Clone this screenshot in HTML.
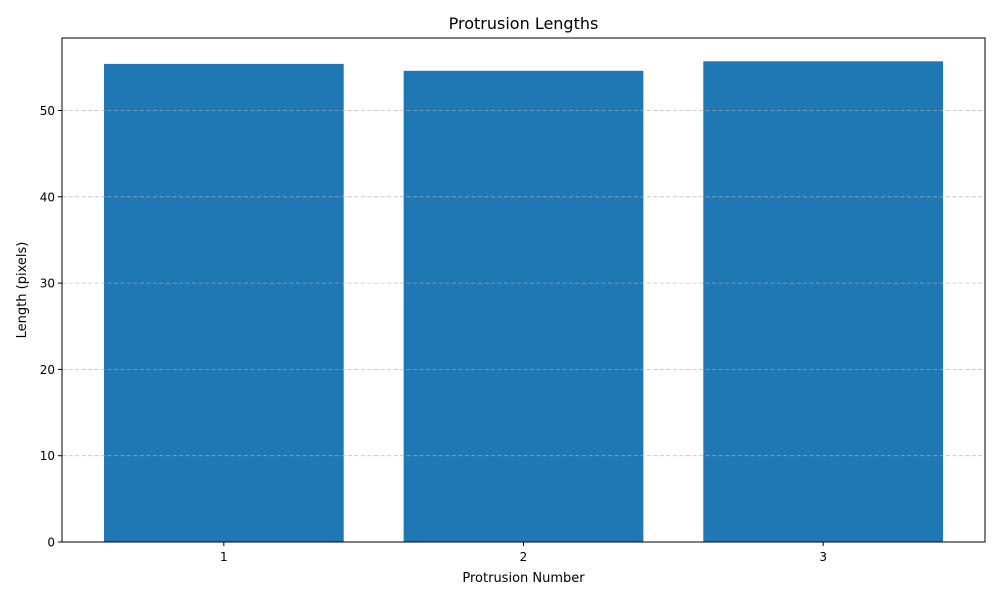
<!DOCTYPE html>
<html><head><meta charset="utf-8"><style>
body{margin:0;background:#fff;font-family:"Liberation Sans","DejaVu Sans",sans-serif;}
svg text{font-family:"DejaVu Sans","Liberation Sans",sans-serif;}
</style></head><body>
<svg id="chart" width="1000" height="600">
<rect x="0" y="0" width="1000" height="600" fill="#fff"/>
<text x="523.5" y="29" text-anchor="middle" font-size="16" fill="#000">Protrusion Lengths</text>
<g id="bars"></g><g id="grid"></g><g id="axes"></g>
<text x="523.5" y="582" text-anchor="middle" font-size="13">Protrusion Number</text>
<text transform="translate(26,290) rotate(-90)" text-anchor="middle" font-size="13">Length (pixels)</text>
</svg>
<script>
const categories = ["1","2","3"];
const lengths = [55.4, 54.6, 55.7];
const yTicks = [0,10,20,30,40,50];
const L=62,R=985,T=38,B=542;
const xMin=0.46,xMax=3.54,yMax=58.4;
const xs=v=>L+(v-xMin)/(xMax-xMin)*(R-L);
const ys=v=>B-v/yMax*(B-T);
const NS="http://www.w3.org/2000/svg";
const grid=document.getElementById('grid'),bars=document.getElementById('bars'),axes=document.getElementById('axes');
function mk(tag,attrs,parent){const e=document.createElementNS(NS,tag);for(const k in attrs)e.setAttribute(k,attrs[k]);parent.appendChild(e);return e;}
yTicks.forEach(t=>{
  const y=ys(t);
  if(t>0){const g=mk('line',{x1:L,x2:R,y1:y,y2:y,stroke:'#b0b0b0','stroke-width':0.8,'stroke-dasharray':'4,2.5','stroke-opacity':0.8},grid);
  
  }
  const tk=mk('line',{x1:L-4,x2:L,y1:y,y2:y,stroke:'#000','stroke-width':1},axes);
  
  
  const tx=mk('text',{x:L-7,y:y+4.5,'text-anchor':'end','font-size':12},axes);
  tx.textContent=t;
  
  
});
categories.forEach((c,i)=>{
  const xc=i+1,v=lengths[i];
  const x0=xs(xc-0.4),x1=xs(xc+0.4);
  const b=mk('rect',{x:x0,y:ys(v),width:x1-x0,height:B-ys(v),fill:'#1f77b4'},bars);
  
  
  const tk=mk('line',{x1:xs(xc),x2:xs(xc),y1:B,y2:B+4,stroke:'#000','stroke-width':1},axes);
  
  
  const tx=mk('text',{x:xs(xc),y:B+19,'text-anchor':'middle','font-size':12},axes);
  tx.textContent=c;
  
  
});
const fr=mk('rect',{x:L,y:T,width:R-L,height:B-T,fill:'none',stroke:'#000','stroke-width':1},axes);


</script>
</body></html>
